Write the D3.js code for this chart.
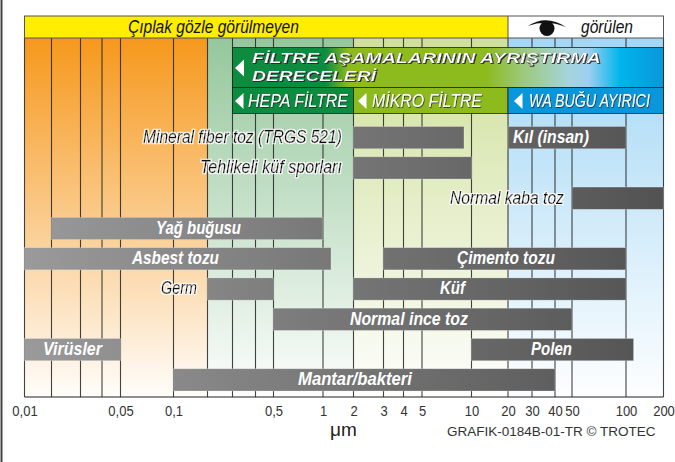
<!DOCTYPE html>
<html><head><meta charset="utf-8">
<script src="https://cdn.jsdelivr.net/npm/d3@7"></script>
<style>html,body{margin:0;padding:0;background:#fff}svg{display:block}</style></head>
<body><svg id="c" width="675" height="462"></svg>
<script>
const gridValues=[0.01,0.02,0.03,0.04,0.05,0.1,0.2,0.3,0.4,0.5,1,2,3,4,5,10,20,30,40,50,100,200];
const gridPixels=[24.5,51.5,80.5,102,120.5,173.5,207.5,232.5,255.5,273.5,323,353.5,383.5,403.5,422,471.5,508,532,555,572,626,663.5];
const tickValues=[0.01,0.05,0.1,0.5,1,2,3,4,5,10,20,30,40,50,100,200];
const tickLabels=["0,01","0,05","0,1","0,5","1","2","3","4","5","10","20","30","40","50","100","200"];
const rows=["r0","r1","r2","r3","r4","r5","r6","r7","r8"];
const particleNames=["Mineral fiber toz (TRGS 521)","Kıl (insan)","Tehlikeli küf sporları","Normal kaba toz","Yağ buğusu","Asbest tozu","Çimento tozu","Germ","Küf","Normal ince toz","Virüsler","Polen","Mantar/bakteri"];
const particleFrom=[2,20,2,50,0.02,0.01,3,0.2,2,0.5,0.01,10,0.1];
const particleTo=[9,100,10,200,1,1.2,100,0.5,100,50,0.05,115,40];
const particleRow=["r0","r0","r1","r2","r3","r4","r4","r5","r5","r6","r7","r7","r8"];
const labelOutside=[true,false,true,true,false,false,false,true,false,false,false,false,false];
const zoneFrom=[0.01,0.2,2,20];
const zoneTo=[0.2,2,20,200];
const zoneColors=["#f6981c","#95c79c","#cfe09b","#a3d7f5"];
const filterNames=["HEPA FİLTRE","MİKRO FİLTRE","WA BUĞU AYIRICI"];
const filterFrom=[0.3,2,20];
const filterTo=[2,20,200];
const filterColors=["#0b8c3e","#8dbb1e","#0a96da"];

// layout of label boxes (left edge, width) measured on the page
const particleLabelBox=[[143,199],[513,76],[200,142],[450,114],[156,85],[132,87],[457,98],[161,36],[440,25],[350,118],[43,59],[531,41],[298,114]];
const filterLabelBox=[[248,100],[372,110],[529,121]];
const filterTriOffset=[2.5,4.5,6];

const svg=d3.select("#c");
const x=d3.scaleLog().domain(gridValues).range(gridPixels);
const y=d3.scaleBand().domain(rows).range([126.5,391]).paddingInner(0.265).paddingOuter(0);
const bandTop=16,bandBottom=38,plotBottom=397;
const sans="'Liberation Sans',Arial,sans-serif";
// place a text at a left edge and scale it horizontally to a measured width
const fit=(t,b)=>{const n=t.node().getComputedTextLength();return t.attr("transform",`translate(${b[0]},0) scale(${b[1]/n},1)`);};
const defs=svg.append("defs");
zoneColors.forEach((c,i)=>{
  const g=defs.append("linearGradient").attr("id","z"+i).attr("x1",0).attr("x2",0).attr("y1",0).attr("y2",1);
  g.append("stop").attr("offset",0).attr("stop-color",c);
  g.append("stop").attr("offset",1).attr("stop-color",c).attr("stop-opacity",0.02);
});
const bg=defs.append("linearGradient").attr("id","barG").attr("gradientUnits","userSpaceOnUse").attr("x1",x(0.01)).attr("x2",x(200)).attr("y1",0).attr("y2",0);
bg.append("stop").attr("offset",0).attr("stop-color","#9a9a9a");
bg.append("stop").attr("offset",1).attr("stop-color","#525252");
const hg=defs.append("linearGradient").attr("id","headG").attr("gradientUnits","userSpaceOnUse").attr("x1",x(0.3)).attr("x2",x(200)).attr("y1",0).attr("y2",0);
[[0,"#0b8c3e"],[0.215,"#0b8c3e"],[0.27,"#8dbb1e"],[0.59,"#8dbb1e"],[0.67,"#9cc878"],[0.78,"#a5d4dc"],[0.825,"#9dd0ef"],[0.9,"#00b4ec"],[1,"#0a96da"]].forEach(s=>hg.append("stop").attr("offset",s[0]).attr("stop-color",s[1]));
const sh=defs.append("filter").attr("id","halo").attr("x","-5%").attr("y","-20%").attr("width","110%").attr("height","140%");
sh.append("feMorphology").attr("in","SourceAlpha").attr("operator","dilate").attr("radius",1).attr("result","d");
sh.append("feFlood").attr("flood-color","#fff");
sh.append("feComposite").attr("in2","d").attr("operator","in").attr("result","w");
const sm=sh.append("feMerge");sm.append("feMergeNode").attr("in","w");sm.append("feMergeNode").attr("in","SourceGraphic");
const dr=defs.append("filter").attr("id","drop").attr("x","-5%").attr("y","-20%").attr("width","110%").attr("height","140%");
dr.append("feDropShadow").attr("dx",0.8).attr("dy",0.8).attr("stdDeviation",0.2).attr("flood-color","#222");

// page frame
svg.append("line").attr("x1",1.5).attr("x2",1.5).attr("y1",0).attr("y2",462).attr("stroke","#444").attr("stroke-width",2);

// zones
svg.selectAll(".zone").data(zoneColors).join("rect").attr("x",(d,i)=>x(zoneFrom[i])).attr("width",(d,i)=>x(zoneTo[i])-x(zoneFrom[i]))
  .attr("y",bandBottom).attr("height",plotBottom-bandBottom).attr("fill",(d,i)=>`url(#z${i})`);
// grid lines
svg.selectAll(".grid").data(gridValues).join("line").attr("x1",d=>x(d)).attr("x2",d=>x(d)).attr("y1",bandBottom).attr("y2",plotBottom)
  .attr("stroke","#222").attr("stroke-width",1.1).attr("stroke-opacity",0.85);
// baseline
svg.append("line").attr("x1",x(0.01)).attr("x2",x(200)).attr("y1",plotBottom).attr("y2",plotBottom).attr("stroke","#222").attr("stroke-width",1);

// visibility band
svg.append("rect").attr("x",x(0.01)).attr("y",bandTop).attr("width",x(20)-x(0.01)).attr("height",bandBottom-bandTop).attr("fill","#ffee00");
svg.append("rect").attr("x",x(20)).attr("y",bandTop).attr("width",x(200)-x(20)).attr("height",bandBottom-bandTop).attr("fill","#fff");
svg.append("rect").attr("x",x(0.01)).attr("y",bandTop).attr("width",x(200)-x(0.01)).attr("height",bandBottom-bandTop).attr("fill","none").attr("stroke","#555").attr("stroke-width",1);
svg.append("line").attr("x1",x(20)).attr("x2",x(20)).attr("y1",bandTop).attr("y2",bandBottom).attr("stroke","#555");
fit(svg.append("text").attr("y",33).attr("font-family",sans).attr("font-style","italic").attr("font-size",18).attr("fill","#111").text("Çıplak gözle görülmeyen"),[128,171]);
fit(svg.append("text").attr("y",33).attr("font-family",sans).attr("font-style","italic").attr("font-size",18).attr("fill","#111").text("görülen"),[581,52]);
// eye
const eye=svg.append("g").attr("fill","#111");
eye.append("path").attr("d","M528 26 Q546 14 566 27 Q546 19 528 26Z");
eye.append("circle").attr("cx",547).attr("cy",28.5).attr("r",7.5);

// filter header
const fTop=47.5,fMid=87.5,fBottom=113.5;
svg.append("rect").attr("x",x(0.3)).attr("y",fTop).attr("width",x(200)-x(0.3)).attr("height",fMid-fTop).attr("fill","url(#headG)").attr("stroke","#222").attr("stroke-width",0.8);
const tri=(g,px,py,s)=>g.append("path").attr("d",`M${px} ${py} l${s} -${s*0.95} v${s*1.9}Z`).attr("fill","#fff");
tri(svg,235,68,9);
const headText=(s,yy,b)=>fit(svg.append("text").attr("y",yy).attr("font-family",sans).attr("font-style","italic").attr("font-weight","bold").attr("font-size",15.5).attr("fill","#fff").attr("stroke","#222").attr("stroke-width",0.2).attr("filter","url(#drop)").text(s),b);
headText("FİLTRE AŞAMALARININ AYRIŞTIRMA",63,[252,349]);
headText("DERECELERİ",81,[252,124]);
filterNames.forEach((n,i)=>{
  svg.append("rect").attr("x",x(filterFrom[i])).attr("y",fMid).attr("width",x(filterTo[i])-x(filterFrom[i])).attr("height",fBottom-fMid).attr("fill",filterColors[i]).attr("stroke","#222").attr("stroke-width",0.8);
  tri(svg,x(filterFrom[i])+filterTriOffset[i],101,8.5);
  fit(svg.append("text").attr("y",107).attr("font-family",sans).attr("font-style","italic").attr("font-size",19).attr("fill","#fff").attr("filter","url(#drop)").text(n),filterLabelBox[i]);
});

// particle bars
svg.selectAll(".bar").data(particleNames).join("rect").attr("x",(d,i)=>x(particleFrom[i])).attr("width",(d,i)=>x(particleTo[i])-x(particleFrom[i]))
  .attr("y",(d,i)=>y(particleRow[i])).attr("height",y.bandwidth()).attr("fill","url(#barG)").attr("stroke","#fff").attr("stroke-opacity",0.35).attr("stroke-width",0.7);
particleNames.forEach((n,i)=>{
  const t=svg.append("text").attr("y",y(particleRow[i])+16.5).attr("font-family",sans).attr("font-style","italic").attr("font-size",17.5).text(n);
  if(labelOutside[i]) t.attr("fill","#111").attr("stroke","#111").attr("stroke-width",0.25).attr("filter","url(#halo)");
  else t.attr("font-weight","bold").attr("fill","#fff");
  fit(t,particleLabelBox[i]);
});

// axis
const axis=d3.axisBottom(x).tickValues(tickValues).tickSize(0).tickPadding(0).tickFormat((d,i)=>tickLabels[i]);
const ax=svg.append("g").attr("transform",`translate(0,${plotBottom+9})`).call(axis);
ax.select(".domain").remove();
ax.selectAll("text").attr("font-family",sans).attr("font-size",14).attr("fill","#333").attr("transform","scale(0.93,1)");
svg.append("text").attr("x",330).attr("y",436).attr("font-family",sans).attr("font-size",19).attr("fill","#222").text("μm");
fit(svg.append("text").attr("y",436.5).attr("font-family",sans).attr("font-size",12).attr("fill","#333").text("GRAFIK-0184B-01-TR © TROTEC"),[447,209]);
</script></body></html>
